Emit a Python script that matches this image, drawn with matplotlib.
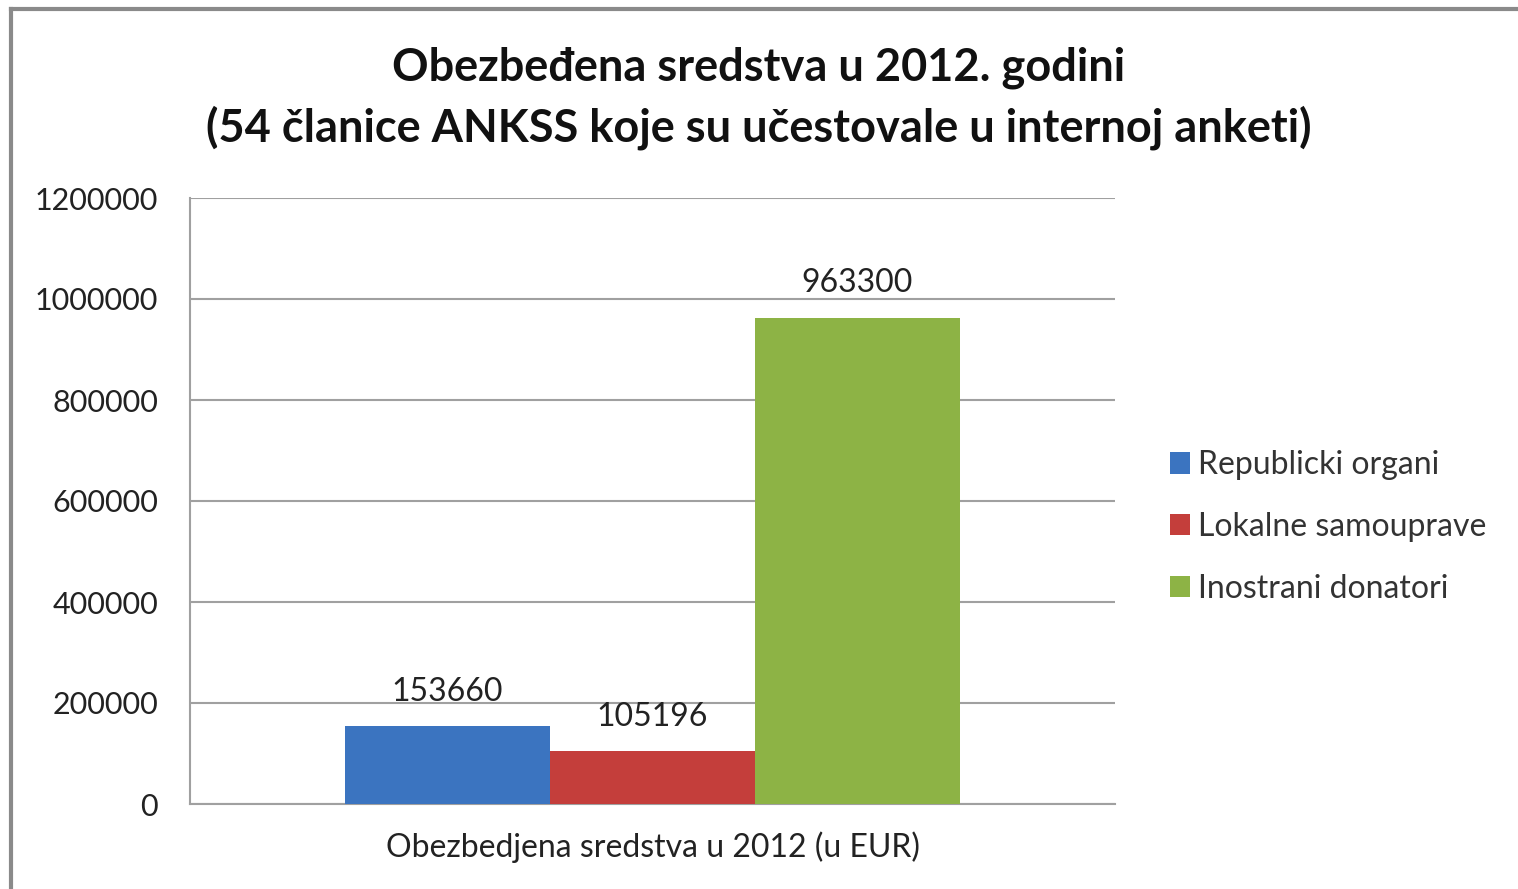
import matplotlib.pyplot as plt
from matplotlib.lines import Line2D

# podaci
kategorija = ["Obezbedjena sredstva u 2012 (u EUR)"]
serije = ["Republicki organi", "Lokalne samouprave", "Inostrani donatori"]
vrednosti = [153660, 105196, 963300]
boje = ["#3b74c0", "#c43e3b", "#8db345"]
y_ticks = [0, 200000, 400000, 600000, 800000, 1000000, 1200000]

plt.rcParams['font.family'] = ['Lato', 'DejaVu Sans']

fig = plt.figure(figsize=(15.18, 8.89), dpi=100)
ax = fig.add_axes([190 / 1518, 1 - 804 / 889, 925 / 1518, 606 / 889])

sirina = 0.2216
pomak = [-sirina, 0, sirina]
for i, (naziv, v) in enumerate(zip(serije, vrednosti)):
    ax.bar(0 + pomak[i], v, width=sirina, color=boje[i], label=naziv,
           edgecolor="none", zorder=3)
    ax.text(0 + pomak[i], v + 38000, str(v), ha="center", va="bottom",
            fontsize=23, color="#222222", zorder=4)

ax.set_xlim(-0.5, 0.5)
ax.set_ylim(0, 1200000)
ax.set_yticks(y_ticks)
ax.set_yticklabels([str(t) for t in y_ticks], fontsize=22, color="#222222")
ax.set_xticks([0])
ax.set_xticklabels(kategorija, fontsize=23, color="#222222")
ax.tick_params(axis="both", length=0)
ax.tick_params(axis="y", pad=23)
ax.tick_params(axis="x", pad=20)
ax.grid(axis="y", color="#a0a0a0", linewidth=1.5, zorder=0)
for s in ["top", "right"]:
    ax.spines[s].set_visible(False)
ax.spines["left"].set_color("#a0a0a0")
ax.spines["bottom"].set_color("#a0a0a0")
ax.spines["left"].set_linewidth(1.5)
ax.spines["bottom"].set_linewidth(1.5)

fig.text(0.5, 1 - 68 / 889, "Obezbeđena sredstva u 2012. godini", ha="center",
         va="center", fontsize=32.5, fontweight="bold", color="#111111")
fig.text(0.5, 1 - 128 / 889,
         "(54 članice ANKSS koje su učestovale u internoj anketi)", ha="center",
         va="center", fontsize=32.5, fontweight="bold", color="#111111")

ax.legend(loc="center left", bbox_to_anchor=(1.028, 0.457), frameon=False,
          fontsize=23, handlelength=0.65, handleheight=0.65, handletextpad=0.25,
          labelspacing=1.0, labelcolor="#333333")

# okvir grafikona
fig.add_artist(Line2D([11 / 1518, 1], [1 - 9 / 889, 1 - 9 / 889],
                      transform=fig.transFigure, color="#8a8a8a", linewidth=3))
fig.add_artist(Line2D([11 / 1518, 11 / 1518], [0, 1 - 9 / 889],
                      transform=fig.transFigure, color="#8a8a8a", linewidth=3))

fig.savefig("out.png", dpi=100, facecolor="white")
